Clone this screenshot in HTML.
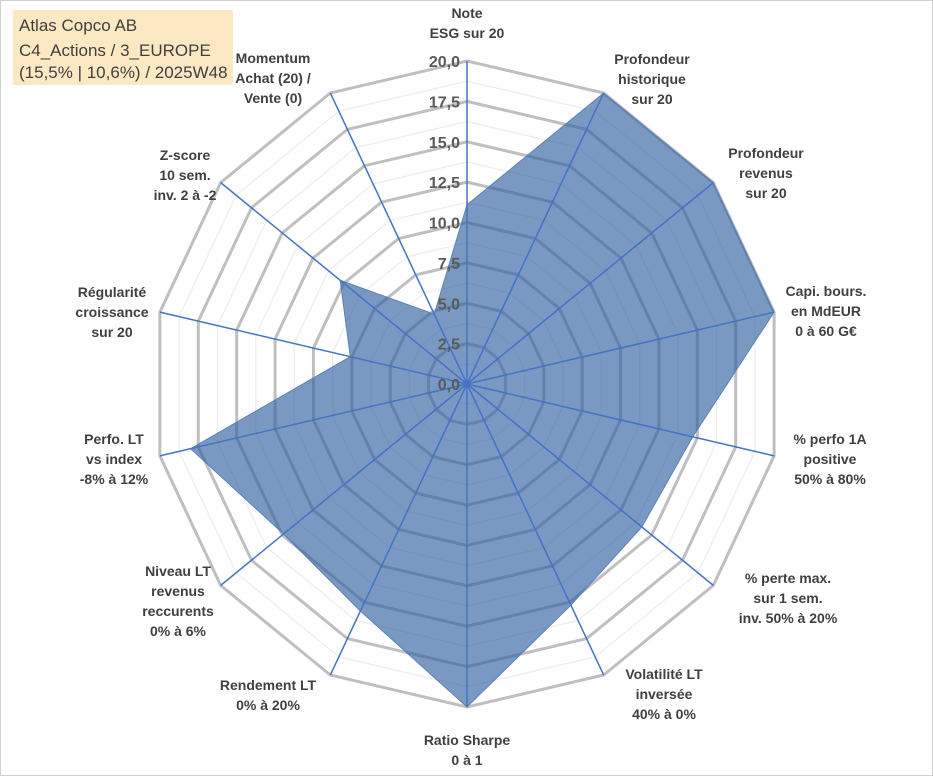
<!DOCTYPE html>
<html><head><meta charset="utf-8"><style>
body{margin:0;background:#fff;}
svg{display:block;font-family:"Liberation Sans",sans-serif;}
</style></head><body>
<svg id="c" width="933" height="776">
<rect x="0.5" y="0.5" width="932" height="775" fill="#fff" stroke="#d0d0d0"/>
<g id="grid"></g><g id="poly"></g><g id="spokes"></g><g id="ticks"></g><g id="labels"></g>
<rect x="13" y="10" width="220" height="75" fill="#fce8c3"/>
<g font-size="17" fill="#404040">
<text x="19" y="31">Atlas Copco AB</text>
<text x="19" y="56">C4_Actions / 3_EUROPE</text>
<text x="19" y="78">(15,5% | 10,6%) / 2025W48</text>
</g>
</svg>
<script>
const categories=["Note|ESG sur 20","Profondeur|historique|sur 20","Profondeur|revenus|sur 20","Capi. bours.|en MdEUR|0 à 60 G€","% perfo 1A|positive|50% à 80%","% perte max.|sur 1 sem.|inv. 50% à 20%","Volatilité LT|inversée|40% à 0%","Ratio Sharpe|0 à 1","Rendement LT|0% à 20%","Niveau LT|revenus|reccurents|0% à 6%","Perfo. LT|vs index|-8% à 12%","Régularité|croissance|sur 20","Z-score|10 sem.|inv. 2 à -2","Momentum|Achat (20) /|Vente (0)"];
const values=[11.1,20,20,20,14.7,14.2,15.2,20,15.6,14.9,18.0,7.6,10.3,4.8];
const tickLabels=["0,0","2,5","5,0","7,5","10,0","12,5","15,0","17,5","20,0"];
const labelPos=[[467,18],[652,64],[766,158],[826,296],[830,444],[788,583],[664,679],[467,745],[268,690],[178,576],[114,444],[112,297],[185,160],[273,63]];
const NS="http://www.w3.org/2000/svg";
const cx=467,cy=384,Rx=315,Ry=323,maxV=20,n=categories.length;
function pt(i,v){const a=i*2*Math.PI/n;const f=v/maxV;return [cx+f*Rx*Math.sin(a),cy-f*Ry*Math.cos(a)];}
function mk(t,attrs,parent){const e=document.createElementNS(NS,t);for(const k in attrs)e.setAttribute(k,attrs[k]);parent.appendChild(e);return e;}
const grid=document.getElementById('grid');
for(let k=1;k<=16;k++){const v=k*1.25;const pts=[];for(let i=0;i<n;i++)pts.push(pt(i,v).join(','));
const major=k%2===0;
const e=mk('polygon',{points:pts.join(' '),fill:'none',stroke:major?'#bfbfbf':'#ececec','stroke-width':major?3:1.2},grid);

}
const pp=[];for(let i=0;i<n;i++)pp.push(pt(i,values[i]).join(','));
const poly=mk('polygon',{points:pp.join(' '),fill:'rgb(47,95,160)','fill-opacity':0.64,stroke:'#5a82b8','stroke-width':1},document.getElementById('poly'));


const sp=document.getElementById('spokes');
for(let i=0;i<n;i++){const p=pt(i,maxV);const l=mk('line',{x1:cx,y1:cy,x2:p[0],y2:p[1],stroke:'#4472c4','stroke-width':1.5},sp);

}
const tk=document.getElementById('ticks');
tickLabels.forEach((t,k)=>{const y=cy-k*2.5/maxV*Ry;const e=mk('text',{x:cx-7,y:y+6,'text-anchor':'end','font-size':16,'font-weight':'bold',fill:'#595959'},tk);e.textContent=t;

});
const lb=document.getElementById('labels');
categories.forEach((c,i)=>{const lines=c.split('|');const g=mk('text',{'text-anchor':'middle','font-size':14,'font-weight':'bold',fill:'#404040'},lb);


lines.forEach((s,j)=>{const ts=mk('tspan',{x:labelPos[i][0],y:labelPos[i][1]+j*20},g);ts.textContent=s;});});
</script>
</body></html>
